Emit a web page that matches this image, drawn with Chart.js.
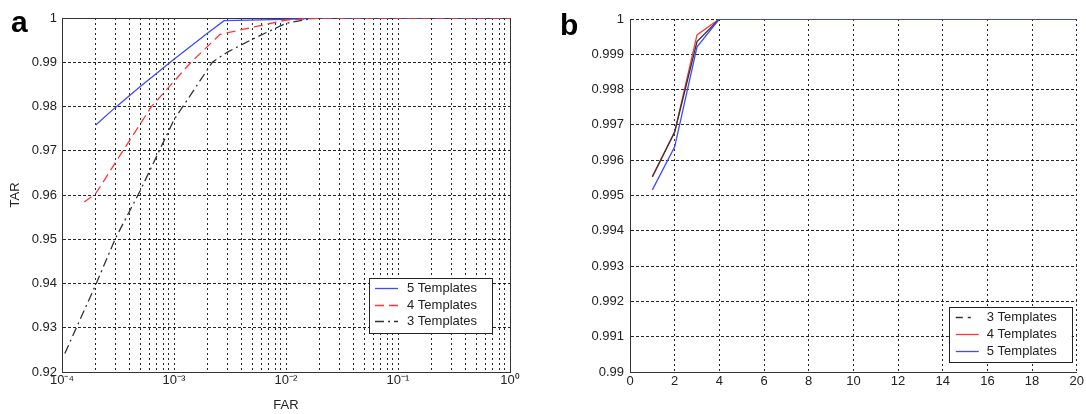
<!DOCTYPE html>
<html><head><meta charset="utf-8">
<script src="https://cdn.jsdelivr.net/npm/chart.js@4.4.1/dist/chart.umd.min.js"></script>
<style>
html,body{margin:0;padding:0;background:#fff;width:1086px;height:414px;overflow:hidden}
canvas{position:absolute;top:0}
#ca{left:0}
#cb{left:540px}
.lab{position:absolute;font:bold 30px "Liberation Sans",Arial,sans-serif;color:#000;line-height:normal}
</style></head><body>
<canvas id="ca" width="540" height="414"></canvas>
<canvas id="cb" width="546" height="414"></canvas>
<div class="lab" style="left:11px;top:5px">a</div>
<div class="lab" style="left:560px;top:8px">b</div>
<script>
// ---------- Panel a data (FAR vs TAR, log x) ----------
const far5 = [2e-4, 3e-4, 5e-4, 1e-3, 2e-3, 2.8e-3, 1e-2, 2e-2, 1];
const tar5 = [0.9758, 0.9798, 0.9845, 0.9907, 0.9966, 0.9994, 0.9997, 1.0, 1.0];
const far4 = [1.58e-4, 2e-4, 3.5e-4, 6.3e-4, 1.42e-3, 2.58e-3, 1e-2, 2.3e-2, 1];
const tar4 = [0.9584, 0.9603, 0.9700, 0.9800, 0.9900, 0.9963, 0.99955, 1.0, 1.0];
const far3 = [1.06e-4, 2e-4, 3e-4, 5e-4, 1e-3, 2.2e-3, 3e-3, 5e-3, 1e-2, 1.8e-2, 1];
const tar3 = [0.9242, 0.9397, 0.9502, 0.9610, 0.9770, 0.9900, 0.9923, 0.9952, 0.9988, 1.0, 1.0];
const decadeValues = [1e-4, 1e-3, 1e-2, 1e-1, 1];
const decadeLabels = ['10\u207B\u2074', '10\u207B\u00B3', '10\u207B\u00B2', '10\u207B\u00B9', '10\u2070'];

// ---------- Panel b data ----------
const nTemplates = [1, 2, 3, 4, 5, 6, 7, 8, 9, 10, 11, 12, 13, 14, 15, 16, 17, 18, 19, 20];
const b3 = [0.99553, 0.99680, 0.99936, 1, 1, 1, 1, 1, 1, 1, 1, 1, 1, 1, 1, 1, 1, 1, 1, 1];
const b4 = [0.99553, 0.99680, 0.99955, 1, 1, 1, 1, 1, 1, 1, 1, 1, 1, 1, 1, 1, 1, 1, 1, 1];
const b5 = [0.99516, 0.99638, 0.99921, 1, 1, 1, 1, 1, 1, 1, 1, 1, 1, 1, 1, 1, 1, 1, 1, 1];

const FONT = '"Liberation Sans", Arial, sans-serif';
const TXT = '#222';
const BLUE = 'rgb(60,75,255)', RED = 'rgb(255,55,55)', BLACK = '#333';
const pts = (xs, ys) => xs.map((x, i) => ({x, y: ys[i]}));

function align(p) { return Math.round(p - 0.5) + 0.5; }

const boxFrame = {
  id: 'boxFrame',
  beforeDatasetsDraw(chart, args, opts) {
    if (!opts.enabled) return;
    const {ctx, chartArea: a} = chart;
    ctx.save();
    ctx.strokeStyle = '#333'; ctx.lineWidth = 1; ctx.setLineDash([]);
    ctx.beginPath();
    ctx.moveTo(align(a.left), align(a.top));
    ctx.lineTo(align(a.right), align(a.top));
    ctx.lineTo(align(a.right), align(a.bottom));
    ctx.stroke();
    ctx.restore();
  }
};

const boxLegend = {
  id: 'boxLegend',
  afterDraw(chart, args, o) {
    const {ctx, chartArea: a} = chart;
    const x = a.right - o.right - o.w, y = a.bottom - o.bottom - o.h;
    ctx.save();
    ctx.fillStyle = '#fff';
    ctx.fillRect(x, y, o.w, o.h);
    ctx.strokeStyle = '#222'; ctx.lineWidth = 1; ctx.setLineDash([]);
    ctx.strokeRect(Math.round(x) + 0.5, Math.round(y) + 0.5, o.w, o.h);
    ctx.font = '13px ' + FONT;
    ctx.textBaseline = 'middle';
    o.items.forEach((it, i) => {
      const ds = chart.data.datasets[it.index];
      const yy = Math.round(y + o.first + i * o.step) + 0.5;
      ctx.strokeStyle = ds.borderColor;
      ctx.lineWidth = 1.3;
      ctx.setLineDash(it.dash || ds.borderDash || []);
      ctx.beginPath();
      ctx.moveTo(x + o.lx1, yy); ctx.lineTo(x + o.lx2, yy);
      ctx.stroke();
      ctx.fillStyle = TXT;
      ctx.fillText(ds.label, x + o.tx, yy);
    });
    ctx.restore();
  }
};

const tickFont = {family: FONT, size: 13};

// ---------- Chart a ----------
new Chart(document.getElementById('ca'), {
  type: 'line',
  data: {
    datasets: [
      {label: '4 Templates', data: pts(far4, tar4), borderColor: RED, borderDash: [9, 5], order: 0},
      {label: '3 Templates', data: pts(far3, tar3), borderColor: BLACK, borderDash: [9, 4, 2, 4], order: 1},
      {label: '5 Templates', data: pts(far5, tar5), borderColor: BLUE, order: 2}
    ]
  },
  options: {
    responsive: false, animation: false, devicePixelRatio: 1,
    layout: {padding: {left: 0, right: 30, top: 18, bottom: 0}},
    elements: {point: {radius: 0}, line: {borderWidth: 1.3, tension: 0, fill: false}},
    plugins: {
      legend: {display: false}, tooltip: {enabled: false},
      boxFrame: {enabled: true},
      boxLegend: {w: 123, h: 55, right: 18, bottom: 39, first: 10, step: 16.5, lx1: 6, lx2: 29, tx: 38,
        items: [{index: 2}, {index: 0}, {index: 1}]}
    },
    scales: {
      x: {
        type: 'logarithmic', min: 1e-4, max: 1,
        afterBuildTicks(scale) {
          const t = [];
          for (let k = -4; k < 0; k++) for (let m = 1; m <= 9; m++) t.push({value: m * Math.pow(10, k)});
          t.push({value: 1});
          scale.ticks = t;
        },
        afterFit(scale) { scale.height = 42; },
        grid: {color: 'rgba(0,0,0,0.85)', lineWidth: 1, drawTicks: false},
        border: {display: true, color: '#333', width: 1, dash: [2, 3]},
        ticks: {
          autoSkip: false, maxRotation: 0, padding: 1, color: TXT, font: tickFont,
          callback(v) {
            const i = decadeValues.findIndex(d => Math.abs(v / d - 1) < 1e-6);
            return i >= 0 ? decadeLabels[i] : '';
          }
        },
        title: {display: true, text: 'FAR', color: TXT, font: tickFont, padding: {top: 0, bottom: 1}}
      },
      y: {
        min: 0.92, max: 1,
        afterFit(scale) { scale.width = 62; },
        grid: {color: 'rgba(0,0,0,0.85)', lineWidth: 1, drawTicks: false},
        border: {display: true, color: '#333', width: 1, dash: [3, 2]},
        ticks: {stepSize: 0.01, padding: 5, color: TXT, font: tickFont,
          callback(v) { return String(Number(v.toFixed(2))); }},
        title: {display: true, text: 'TAR', color: TXT, font: tickFont, padding: {top: 8, bottom: 0}}
      }
    }
  },
  plugins: [boxFrame, boxLegend]
});

// ---------- Chart b ----------
new Chart(document.getElementById('cb'), {
  type: 'line',
  data: {
    datasets: [
      {label: '3 Templates', data: pts(nTemplates, b3), borderColor: BLACK, order: 1},
      {label: '4 Templates', data: pts(nTemplates, b4), borderColor: RED, order: 2},
      {label: '5 Templates', data: pts(nTemplates, b5), borderColor: BLUE, order: 0}
    ]
  },
  options: {
    responsive: false, animation: false, devicePixelRatio: 1,
    layout: {padding: {left: 0, right: 8, top: 19, bottom: 0}},
    elements: {point: {radius: 0}, line: {borderWidth: 1.3, tension: 0, fill: false}},
    plugins: {
      legend: {display: false}, tooltip: {enabled: false},
      boxFrame: {enabled: false},
      boxLegend: {w: 123, h: 55, right: 5, bottom: 10, first: 10.3, step: 16.7, lx1: 7, lx2: 30, tx: 38,
        items: [{index: 0, dash: [7, 5, 3, 100]}, {index: 1}, {index: 2}]}
    },
    scales: {
      x: {
        type: 'linear', min: 0, max: 20,
        afterFit(scale) { scale.height = 42; },
        grid: {color: 'rgba(0,0,0,0.85)', lineWidth: 1, drawTicks: false},
        border: {display: true, color: '#333', width: 1, dash: [2, 3]},
        ticks: {stepSize: 2, maxRotation: 0, padding: 2, color: TXT, font: tickFont}
      },
      y: {
        min: 0.99, max: 1,
        afterFit(scale) { scale.width = 90; },
        grid: {color: 'rgba(0,0,0,0.85)', lineWidth: 1, drawTicks: false},
        border: {display: true, color: '#333', width: 1, dash: [3, 2]},
        ticks: {stepSize: 0.001, padding: 6, color: TXT, font: tickFont,
          callback(v) { return String(Number(v.toFixed(3))); }}
      }
    }
  },
  plugins: [boxFrame, boxLegend]
});
</script>
</body></html>
